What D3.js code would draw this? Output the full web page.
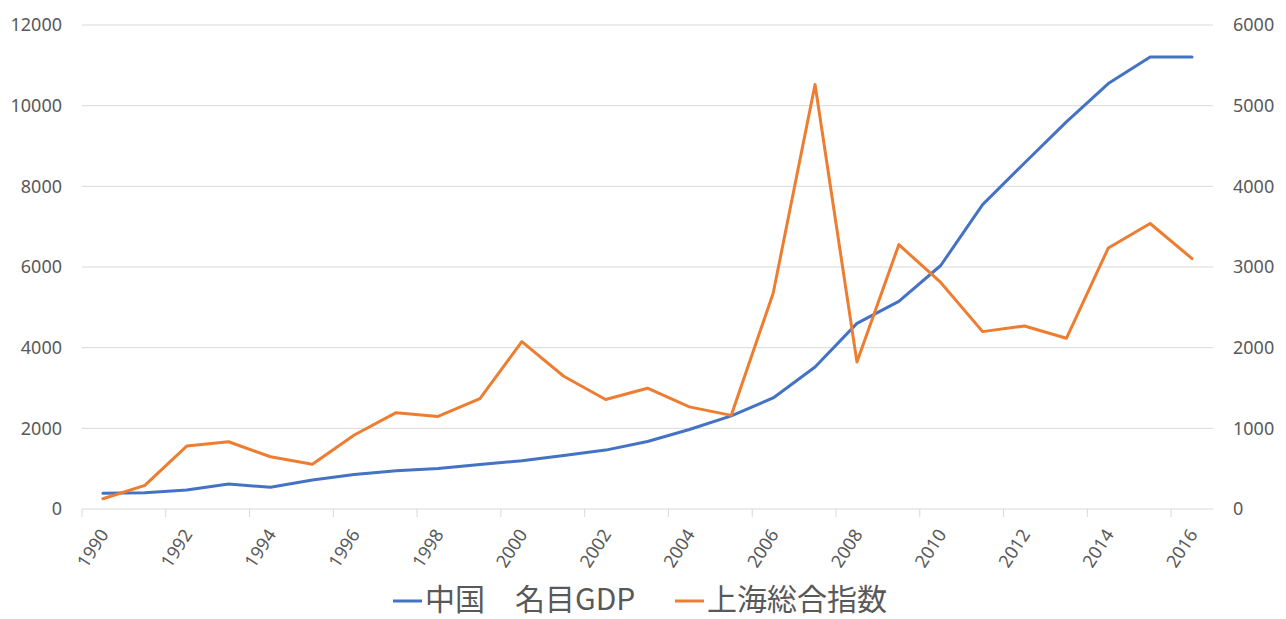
<!DOCTYPE html>
<html>
<head>
<meta charset="utf-8">
<script src="https://cdn.jsdelivr.net/npm/d3@7"></script>
<style>
  html, body { margin: 0; padding: 0; background: #fff; }
  svg { display: block; }
  .tick text { font-family: "Noto Sans", sans-serif; }
</style>
</head>
<body>
<svg width="1286" height="619"></svg>
<script>
const years = d3.range(1990, 2017);

// China nominal GDP (billion USD), left axis
const gdp = [388, 404, 470, 618, 537, 717, 858, 948, 1007, 1105,
  1195, 1328, 1460, 1675, 1972, 2308, 2754, 3520, 4602, 5146,
  6037, 7546, 8578, 9599, 10547, 11207, 11207];

// Shanghai composite index, right axis
const sse = [127, 292, 780, 834, 648, 555, 917, 1194, 1147, 1367,
  2074, 1646, 1358, 1497, 1266, 1161, 2675, 5262, 1821, 3277,
  2808, 2199, 2269, 2116, 3235, 3539, 3104];

const leftTicks = [0, 2000, 4000, 6000, 8000, 10000, 12000];
const rightTicks = [0, 1000, 2000, 3000, 4000, 5000, 6000];
const labelYears = years.filter(y => y % 2 === 0);

const seriesNames = ['中国　名目GDP', '上海総合指数'];
const colors = ['#4472C4', '#ED7D31'];

const margin = { top: 25, right: 73, bottom: 110, left: 82 };
const width = 1286 - margin.left - margin.right;
const height = 619 - margin.top - margin.bottom;

const svg = d3.select('svg');
const g = svg.append('g')
  .attr('transform', `translate(${margin.left},${margin.top})`);

const x = d3.scaleBand()
  .domain(years)
  .range([0, width])
  .padding(0);

const yLeft = d3.scaleLinear().domain([0, 12000]).range([height, 0]);
const yRight = d3.scaleLinear().domain([0, 6000]).range([height, 0]);

// gridlines
g.append('g')
  .selectAll('line')
  .data(leftTicks.filter(d => d > 0))
  .enter()
  .append('line')
  .attr('x1', 0)
  .attr('x2', width)
  .attr('y1', d => yLeft(d))
  .attr('y2', d => yLeft(d))
  .attr('stroke', '#d9d9d9')
  .attr('stroke-width', 1);

// left axis
const leftAxis = g.append('g')
  .call(d3.axisLeft(yLeft).tickValues(leftTicks).tickSize(0).tickPadding(20).tickFormat(d3.format('d')));
leftAxis.select('.domain').remove();
leftAxis.selectAll('text')
  .attr('font-size', 18)
  .attr('fill', '#595959');

// right axis
const rightAxis = g.append('g')
  .attr('transform', `translate(${width},0)`)
  .call(d3.axisRight(yRight).tickValues(rightTicks).tickSize(0).tickPadding(20).tickFormat(d3.format('d')));
rightAxis.select('.domain').remove();
rightAxis.selectAll('text')
  .attr('font-size', 18)
  .attr('fill', '#595959');

// bottom axis line with ticks at category boundaries
const xAxis = g.append('g')
  .attr('transform', `translate(0,${height})`);

xAxis.append('line')
  .attr('x1', 0)
  .attr('x2', width)
  .attr('stroke', '#d9d9d9');

xAxis.selectAll('line.tk')
  .data(labelYears)
  .enter()
  .append('line')
  .attr('class', 'tk')
  .attr('x1', d => x(d))
  .attr('x2', d => x(d))
  .attr('y1', 0)
  .attr('y2', 8)
  .attr('stroke', '#d9d9d9');

xAxis.selectAll('text')
  .data(labelYears)
  .enter()
  .append('text')
  .attr('transform', d => `translate(${x(d) + x.bandwidth() / 2 + 1},${22}) rotate(-57)`)
  .attr('text-anchor', 'end')
  .attr('dy', '0.35em')
  .attr('font-family', '"Noto Sans", sans-serif')
  .attr('font-size', 18)
  .attr('fill', '#595959')
  .text(d => d);

// lines
const cx = d => x(d) + x.bandwidth() / 2;

const gdpLine = d3.line()
  .x((d, i) => cx(years[i]))
  .y(d => yLeft(d));

const sseLine = d3.line()
  .x((d, i) => cx(years[i]))
  .y(d => yRight(d));

g.append('path')
  .datum(gdp)
  .attr('fill', 'none')
  .attr('stroke', colors[0])
  .attr('stroke-width', 3)
  .attr('stroke-linejoin', 'round')
  .attr('stroke-linecap', 'round')
  .attr('d', gdpLine);

g.append('path')
  .datum(sse)
  .attr('fill', 'none')
  .attr('stroke', colors[1])
  .attr('stroke-width', 3)
  .attr('stroke-linejoin', 'round')
  .attr('stroke-linecap', 'round')
  .attr('d', sseLine);

// legend
const legendX = [393, 675];
const legend = svg.append('g');
const item = legend.selectAll('g')
  .data(seriesNames)
  .enter()
  .append('g')
  .attr('transform', (d, i) => `translate(${legendX[i]},601)`);

item.append('line')
  .attr('x1', 0)
  .attr('x2', 29)
  .attr('stroke', (d, i) => colors[i])
  .attr('stroke-width', 3);

item.append('text')
  .attr('x', 32)
  .attr('y', 9)
  .attr('font-family', '"Noto Sans CJK JP", sans-serif')
  .attr('font-size', 30)
  .attr('fill', '#595959')
  .text(d => d);
</script>
</body>
</html>
